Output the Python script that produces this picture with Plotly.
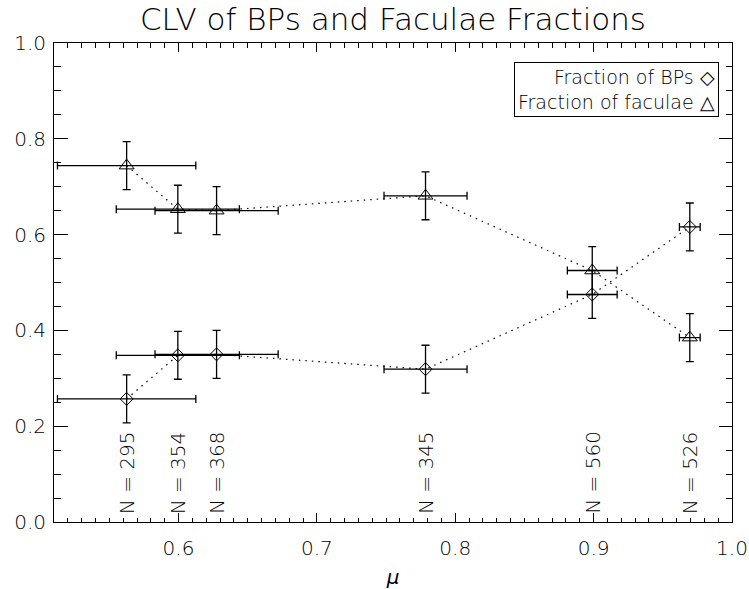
import plotly.graph_objects as go

# ---- data ----
mu = [0.5625, 0.5995, 0.6275, 0.7785, 0.8990, 0.9695]
mu_err = [0.050, 0.0445, 0.0445, 0.030, 0.018, 0.0075]
frac_bps = [0.257, 0.348, 0.350, 0.319, 0.475, 0.616]
frac_fac = [0.744, 0.653, 0.650, 0.681, 0.525, 0.385]
frac_err = [0.050, 0.050, 0.050, 0.050, 0.050, 0.050]
counts = [295, 354, 368, 345, 560, 526]

FONT = "DejaVu Sans"
W = 200

fig = go.Figure()

for yvals, sym, msize in [(frac_bps, "diamond-open", 10), (frac_fac, "triangle-up-open", 13)]:
    fig.add_trace(go.Scatter(
        x=mu, y=yvals, mode="lines+markers",
        line=dict(color="black", width=1.2, dash="1.5px,5px"),
        marker=dict(symbol=sym, size=msize, color="black", line=dict(width=1, color="black")),
        error_x=dict(type="data", array=mu_err, visible=True, color="black", thickness=1.3, width=4),
        error_y=dict(type="data", array=frac_err, visible=True, color="black", thickness=1.3, width=4),
        showlegend=False, hoverinfo="skip",
    ))

annotations = []
for x, n in zip(mu, counts):
    annotations.append(dict(
        x=x, y=0.0, xref="x", yref="y", text=f"N = {n}", textangle=-90,
        showarrow=False, xanchor="center", yanchor="bottom", yshift=6,
        font=dict(family=FONT, size=20, color="black", weight=W),
    ))

annotations.append(dict(
    x=0.9813, y=0.9594, xref="paper", yref="paper", xanchor="right", yanchor="top",
    text="Fraction of BPs ◇<br>Fraction of faculae △", align="right", showarrow=False,
    bordercolor="black", borderwidth=1, borderpad=3, bgcolor="white",
    font=dict(family=FONT, size=19, color="black", weight=W),
))

fig.update_layout(
    width=749, height=589,
    margin=dict(l=54, r=17, t=43, b=67, autoexpand=False),
    paper_bgcolor="white", plot_bgcolor="white",
    font=dict(family=FONT, size=20, color="black", weight=W),
    title=dict(text="CLV of BPs and Faculae Fractions", x=0.5, xref="paper",
               y=1 - 19 / 589, yref="container", yanchor="middle", xanchor="center",
               font=dict(family=FONT, size=31, color="black", weight=W)),
    annotations=annotations,
)

fig.update_xaxes(
    range=[0.51, 1.0], showgrid=False, zeroline=False, automargin=False,
    showline=True, linecolor="black", linewidth=1, mirror="allticks",
    ticks="inside", ticklen=9, tickwidth=1, tickcolor="black",
    tick0=0, dtick=0.1, tickformat=".1f", ticklabelstandoff=8,
    minor=dict(ticks="inside", ticklen=4.5, dtick=0.01, tick0=0, tickcolor="black", tickwidth=1),
    title=dict(text="<i>μ</i>", standoff=25, font=dict(family=FONT, size=20, weight=W)),
)
fig.update_yaxes(
    range=[0.0, 1.0], showgrid=False, zeroline=False, automargin=False,
    showline=True, linecolor="black", linewidth=1, mirror="allticks",
    ticks="inside", ticklen=13.5, tickwidth=1, tickcolor="black",
    tick0=0, dtick=0.2, tickformat=".1f", ticklabelstandoff=3,
    minor=dict(ticks="inside", ticklen=6.5, dtick=0.05, tick0=0, tickcolor="black", tickwidth=1),
)

fig.write_html("out.html")
